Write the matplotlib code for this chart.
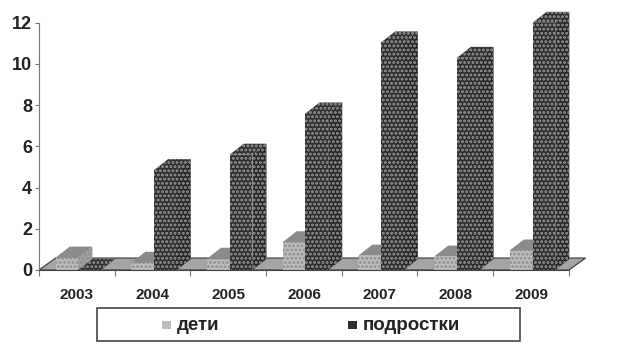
import matplotlib
matplotlib.use('Agg')
import matplotlib.pyplot as plt
from matplotlib.patches import Polygon, Rectangle

years = ['2003', '2004', '2005', '2006', '2007', '2008', '2009']
deti = [0.6, 0.35, 0.55, 1.35, 0.7, 0.65, 0.95]
podrostki = [0.0, 4.85, 5.6, 7.6, 11.05, 10.3, 12.0]
series_names = ['дети', 'подростки']
yticks = [0, 2, 4, 6, 8, 10, 12]

plt.rcParams['font.family'] = ['Liberation Sans', 'DejaVu Sans']
plt.rcParams['font.weight'] = 'bold'
plt.rcParams['hatch.linewidth'] = 1.4

# 3d look: depth offsets in data units
BW = 0.30
DX, DY = 0.185, 0.53
FDX, FDY = 0.22, 0.58

STYLE = {
    'дети': dict(front='#bdbdbd', top='#8a8a8a', side='#a0a0a0', dots='#8e8e8e'),
    'подростки': dict(front='#2e2e2e', top='#303030', side='#272727', dots='#999999'),
}

fig = plt.figure(figsize=(6.21, 3.46), dpi=100)
ax = fig.add_axes([39 / 621, 1 - 270 / 346, 567.75 / 621, 257.5 / 346])
ax.set_xlim(0, 7.5)
ax.set_ylim(0, 12.5)


def face(pts, fc, dots, z):
    ax.add_patch(Polygon(pts, closed=True, facecolor=fc, edgecolor='none',
                         zorder=z, clip_on=False))
    ax.add_patch(Polygon(pts, closed=True, facecolor='none', edgecolor=dots,
                         hatch='....', linewidth=0, zorder=z + 0.01, clip_on=False))


def bar3d(x0, h, st, z):
    x1 = x0 + BW
    # front
    face([(x0, 0), (x1, 0), (x1, h), (x0, h)], st['front'], st['dots'], z)
    # side
    face([(x1, 0), (x1 + DX, DY), (x1 + DX, h + DY), (x1, h)], st['side'], st['dots'], z)
    # top
    face([(x0, h), (x1, h), (x1 + DX, h + DY), (x0 + DX, h + DY)], st['top'], st['dots'], z)


# floor
n = len(years)
ax.add_patch(Polygon([(0, 0), (n, 0), (n + FDX, FDY), (FDX, FDY)], closed=True,
                     facecolor='#a4a4a4', edgecolor='#444444', linewidth=0.9,
                     zorder=1, clip_on=False))

z = 2
for i in range(n):
    bar3d(i + 0.22, deti[i], STYLE['дети'], z)
    z += 1
    bar3d(i + 0.22 + BW, podrostki[i], STYLE['подростки'], z)
    z += 1

for s in ['top', 'right']:
    ax.spines[s].set_visible(False)
ax.spines['left'].set_bounds(0, 12)
ax.spines['bottom'].set_bounds(0, n)
ax.spines['left'].set_color('#777777')
ax.spines['bottom'].set_color('#444444')
ax.spines['bottom'].set_zorder(100)

ax.set_yticks(yticks)
ax.set_yticklabels([str(v) for v in yticks], fontsize=13, fontweight='bold', color='#222222')
ax.set_xticks(range(n + 1))
ax.set_xticklabels([])
ax.set_xticks([i + 0.5 for i in range(n)], minor=True)
ax.set_xticklabels(years, minor=True, fontsize=11, fontweight='bold', color='#222222')
ax.tick_params(axis='x', which='major', direction='out', length=4, color='#777777')
ax.tick_params(axis='x', which='minor', length=0, pad=13)
ax.tick_params(axis='y', direction='out', length=3, color='#777777', pad=2)

# legend box
fig.patches.append(Rectangle((97 / 621, 1 - 341 / 346), 423 / 621, 33 / 346,
                             transform=fig.transFigure, facecolor='white',
                             edgecolor='#444444', linewidth=1.2))
leg_x = [162, 348]
for name, lx in zip(series_names, leg_x):
    st = STYLE[name]
    fig.patches.append(Rectangle((lx / 621, 1 - 329 / 346), 9 / 621, 8 / 346,
                                 transform=fig.transFigure, facecolor=st['front'],
                                 edgecolor='none'))
    fig.text((lx + 15) / 621, 1 - 326 / 346, name, fontsize=13.5, fontweight='bold',
             va='center', ha='left', color='#222222')

fig.savefig('out.png', dpi=100)
